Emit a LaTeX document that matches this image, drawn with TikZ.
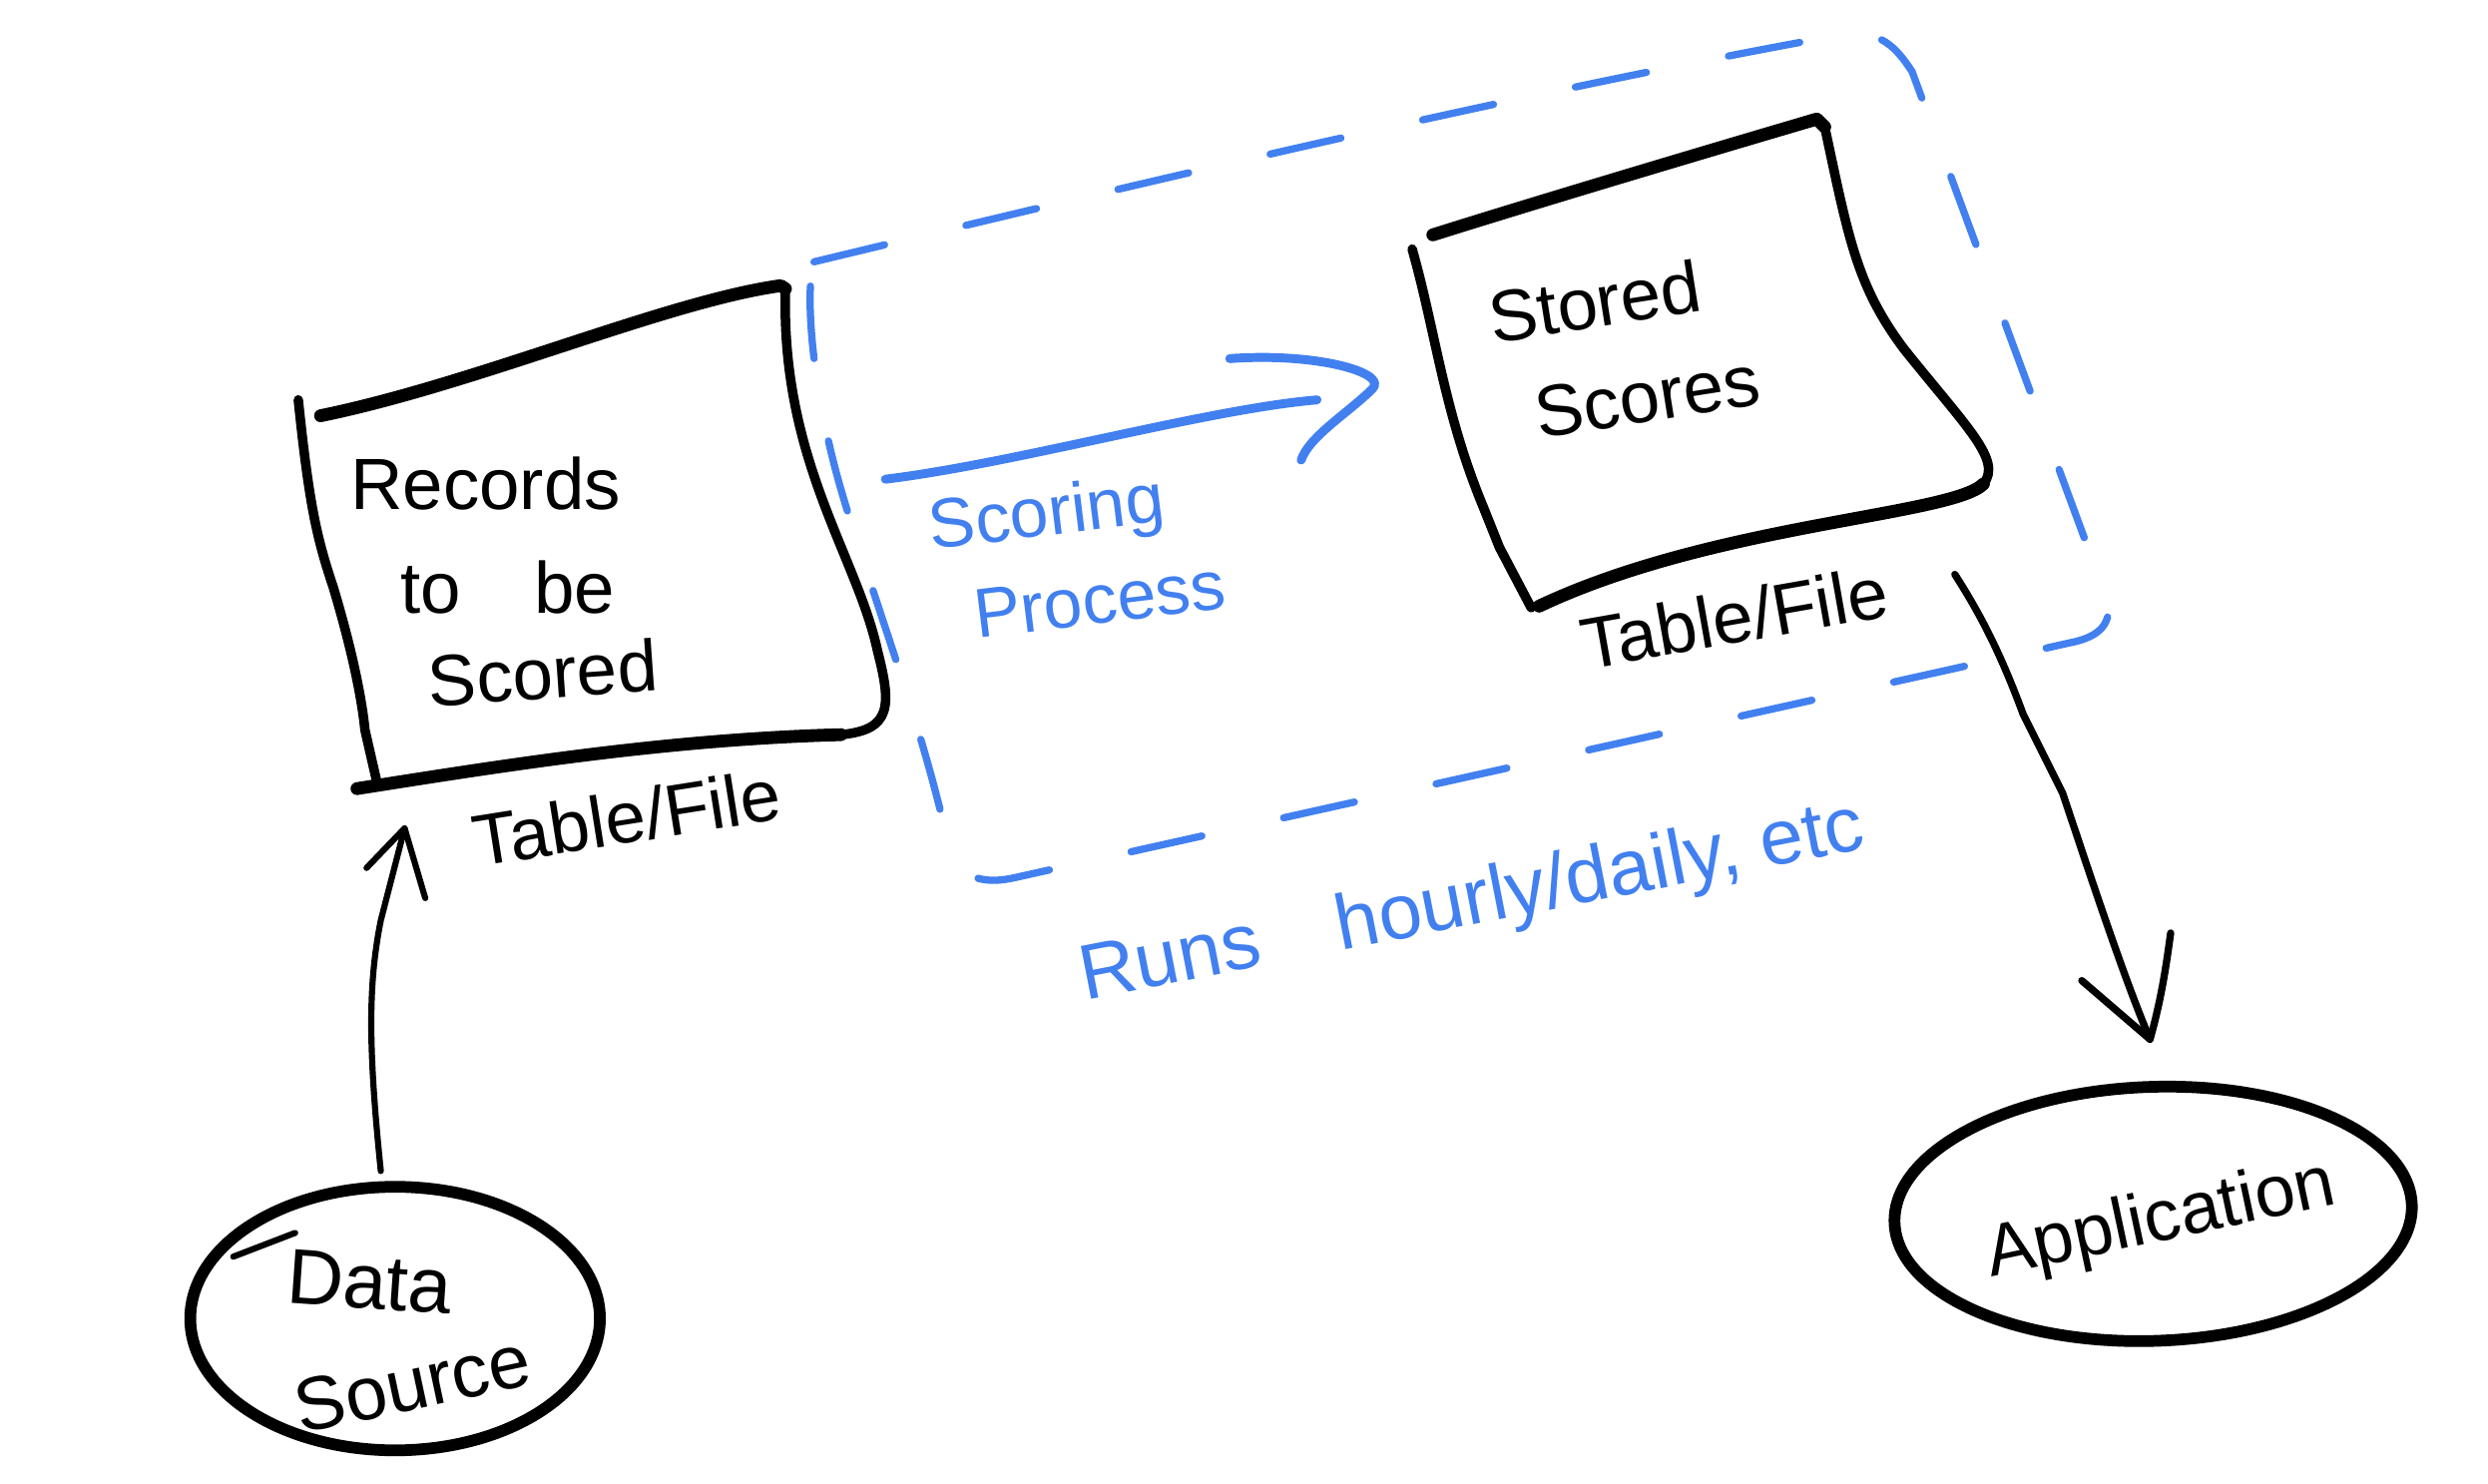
\documentclass[tikz,border=0pt]{standalone}
\usepackage{fontspec}
\setmainfont{Liberation Sans}
\usetikzlibrary{shapes.geometric}
\definecolor{penblue}{RGB}{66,128,240}
\begin{document}
\begin{tikzpicture}[x=0.01cm,y=-0.01cm,
  ink/.style={line width=1.7pt, line cap=round, line join=round},
  heavy/.style={line width=2.3pt, line cap=round, line join=round},
  thinink/.style={line width=1.1pt, line cap=round, line join=round},
  blueink/.style={draw=penblue, line width=1.6pt, line cap=round, line join=round},
  dashloop/.style={draw=penblue, line width=1.3pt, line cap=round, dash pattern=on 13pt off 15pt},
  hand/.style={font=\fontsize{13}{15}\selectfont, inner sep=0pt},
  bluehand/.style={hand, text=penblue},
  blob/.style={ellipse, draw, line width=2.1pt, inner sep=0pt}]
\useasboundingbox (0,0) rectangle (1568,935);

% ---------- left box: Records to be Scored ----------
\coordinate (recTL) at (202,262);
\coordinate (recTR) at (495,182);
\coordinate (recBL) at (225,497);
\draw[heavy] (recTL) .. controls (300,242) and (420,190) .. (492,180) -- (recTR);
\draw[ink] (recTR) .. controls (492,290) and (540,350) .. (553,410)
  .. controls (562,445) and (562,460) .. (530,463);
\draw[heavy] (530,463) .. controls (420,466) and (320,482) .. (recBL);
\draw[ink] (188,252) .. controls (195,320) and (200,340) .. (210,370)
  .. controls (222,410) and (228,440) .. (230,460) -- (238,495);
\node[hand] (rec1) at (306,305) {Records};
\node[hand] (rec2) at (320,370) {to\quad be};
\node[hand, rotate=4] (rec3) at (342,424) {Scored};
\node[hand, rotate=9] (tf1) at (395,515) {Table/File};

% ---------- right box: Stored Scores ----------
\coordinate (stoTR) at (1150,80);
\coordinate (stoOut) at (1232,362);
\draw[heavy] (903,148) .. controls (960,130) and (1060,100) .. (1145,75) -- (stoTR);
\draw[ink] (stoTR) .. controls (1165,150) and (1170,180) .. (1200,220)
  .. controls (1240,270) and (1262,290) .. (1250,305);
\draw[heavy] (1250,305) .. controls (1230,325) and (1080,330) .. (970,382);
\draw[ink] (890,157) .. controls (905,210) and (910,260) .. (935,320) -- (945,345) -- (965,383);
\node[hand, rotate=9] (st1) at (1005,190) {Stored};
\node[hand, rotate=9] (st2) at (1038,250) {Scores};
\node[hand, rotate=10] (tf2) at (1093,389) {Table/File};

% ---------- scoring process arrow ----------
\coordinate (spA) at (558,302);
\coordinate (spB) at (830,252);
\draw[blueink] (spA) .. controls (640,292) and (760,258) .. (spB);
\draw[blueink] (775,226) .. controls (830,222) and (875,235) .. (865,245)
  .. controls (850,260) and (825,275) .. (820,290);
\node[bluehand, rotate=7, font=\fontsize{12.5}{14}\selectfont] (sc1) at (660,326) {Scoring};
\node[bluehand, rotate=7, font=\fontsize{12.5}{14}\selectfont] (sc2) at (693,378) {Process};

% ---------- dashed loop ----------
\draw[dashloop] (513,165) .. controls (700,120) and (950,60) .. (1160,22)
  .. controls (1185,18) and (1195,30) .. (1205,45)
  -- (1328,378)
  .. controls (1332,395) and (1320,402) .. (1305,405)
  -- (640,553)
  .. controls (610,560) and (600,545) .. (597,530)
  .. controls (580,450) and (540,350) .. (525,290)
  .. controls (510,230) and (508,180) .. cycle;
\node[bluehand, rotate=11, font=\fontsize{14}{16}\selectfont] (runs) at (928,570)
  {Runs\quad hourly/daily, etc};

% ---------- data source ----------
\node[blob, minimum width=2.58cm, minimum height=1.66cm] (ds) at (249,831) {};
\draw[thinink] (147,792) -- (186,777);
\node[hand, rotate=-4, font=\fontsize{14}{16}\selectfont] (ds1) at (233,808) {Data};
\node[hand, rotate=12, font=\fontsize{13.5}{16}\selectfont] (ds2) at (260,872) {Source};
\coordinate (dsTop) at (240,738);
\coordinate (upTip) at (255,522);
\draw[thinink] (dsTop) .. controls (232,660) and (232,620) .. (240,580) -- (upTip);
\draw[thinink] (upTip) ++(-24,25) -- (upTip) -- ++(13,44);

% ---------- application ----------
\node[blob, rotate=2, minimum width=3.26cm, minimum height=1.6cm] (app) at (1357,765) {};
\node[hand, rotate=12, font=\fontsize{13}{15}\selectfont] (app1) at (1362,770) {Application};
\coordinate (appTip) at (1355,655);
\draw[thinink, line width=1.3pt] (stoOut) .. controls (1250,390) and (1262,415) .. (1275,450)
  -- (1300,500) .. controls (1320,560) and (1340,620) .. (appTip);
\draw[thinink, line width=1.3pt] (appTip) ++(-43,-37) -- (appTip) .. controls (1362,630) and (1365,610) .. (1368,588);
\end{tikzpicture}
\end{document}
